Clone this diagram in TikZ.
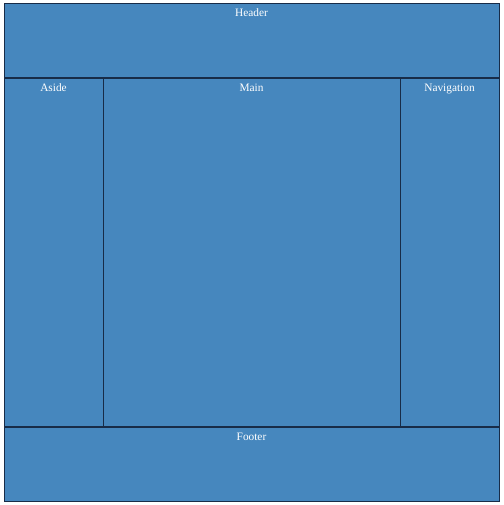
\documentclass[tikz,border=0pt]{standalone}
\usepackage{fontspec}
\setmainfont{Liberation Serif}
\definecolor{panelblue}{RGB}{70,135,190}
\definecolor{panelline}{RGB}{24,44,72}
\tikzset{
  panel/.style={draw=panelline, fill=panelblue, line width=0.6pt, anchor=north west,
    inner sep=0pt, outer sep=0pt},
  title/.style={text=white, font=\fontsize{8.5}{10}\selectfont, anchor=base, yshift=-10.3pt}
}

\begin{document}
\begin{tikzpicture}[x=0.75pt,y=-0.75pt]
    \useasboundingbox (0,0) rectangle (503,505);
    % top and bottom bands
    \node [panel, minimum width=371.25pt, minimum height=55.5pt,
           label={[title]north:Header}] (header) at (4,3) {};
    \node [panel, minimum width=371.25pt, minimum height=55.5pt,
           label={[title]north:Footer}] (footer) at (4,427) {};
    % three columns
    \node [panel, minimum width=74.25pt, minimum height=261pt,
           label={[title]north:Aside}] (aside) at (4,78) {};
    \node [panel, minimum width=222.75pt, minimum height=261pt,
           label={[title]north:Main}] (main) at (103,78) {};
    \node [panel, minimum width=74.25pt, minimum height=261pt,
           label={[title]north:Navigation}] (navigation) at (400,78) {};
\end{tikzpicture}
\end{document}
